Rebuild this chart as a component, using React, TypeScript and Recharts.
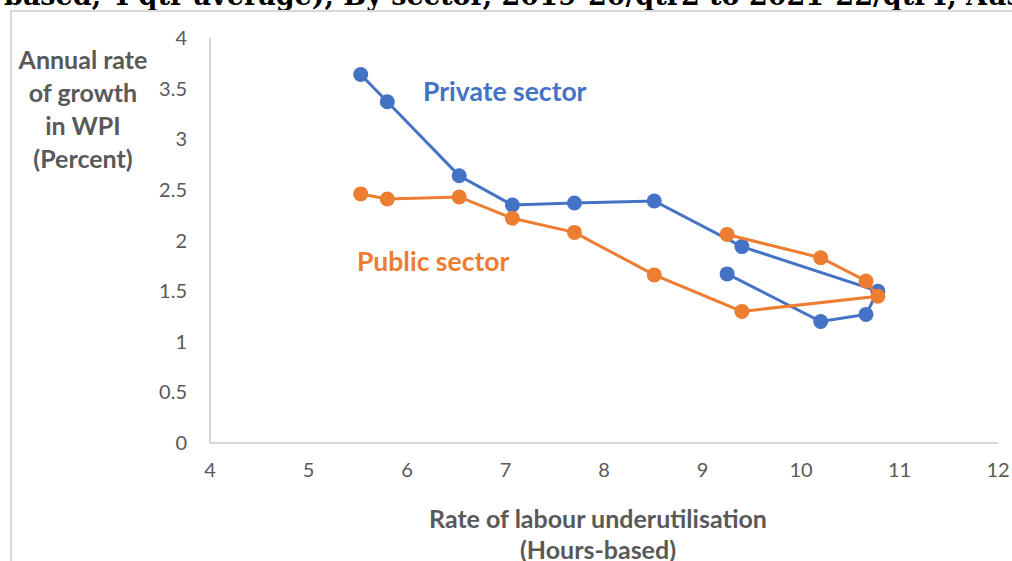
import React from 'react';
import { ScatterChart, Scatter, XAxis, YAxis } from 'recharts';

// Quarterly observations (4-qtr averages), in time order
const underutilisation = [9.25, 10.2, 10.66, 10.78, 9.4, 8.51, 7.7, 7.07, 6.53, 5.8, 5.53];
const privateSector = [1.67, 1.2, 1.27, 1.5, 1.94, 2.39, 2.37, 2.35, 2.64, 3.37, 3.64];
const publicSector = [2.06, 1.83, 1.6, 1.45, 1.3, 1.66, 2.08, 2.22, 2.43, 2.41, 2.46];

const xTicks = [4, 5, 6, 7, 8, 9, 10, 11, 12];
const yTicks = [0, 0.5, 1, 1.5, 2, 2.5, 3, 3.5, 4];

const titleText = 'based, 4 qtr average), By sector, 2019-20/qtr2 to 2021-22/qtr4, Australia';
const yTitleLines = ['Annual rate', 'of growth', 'in WPI', '(Percent)'];
const xTitleLines = ['Rate of labour underutilisation', '(Hours-based)'];

const BLUE = '#4472C4';
const ORANGE = '#ED7D31';
const GRAY_TEXT = '#595959';
const FONT = 'Lato, "Open Sans", sans-serif';

const privateData = underutilisation.map((x, i) => ({ x, y: privateSector[i] }));
const publicData = underutilisation.map((x, i) => ({ x, y: publicSector[i] }));

const makeDot = (color: string) => (props: any) => (
  <circle cx={props.cx} cy={props.cy} r={7.5} fill={color} />
);

const YTitle = () => {
  const cx = 83;
  return (
    <text textAnchor="middle" fill={GRAY_TEXT} fontFamily={FONT} fontWeight={700} fontSize={25}>
      {yTitleLines.map((l, i) => (
        <tspan key={i} x={cx} y={69 + i * 33}>{l}</tspan>
      ))}
    </text>
  );
};

const XTitle = () => {
  const cx = 598;
  return (
    <text textAnchor="middle" fill={GRAY_TEXT} fontFamily={FONT} fontWeight={700} fontSize={25}>
      {xTitleLines.map((l, i) => (
        <tspan key={i} x={cx} y={528 + i * 31}>{l}</tspan>
      ))}
    </text>
  );
};

export default function App() {
  return (
    <div style={{ position: 'absolute', left: 0, top: 0, width: 1012, height: 561, overflow: 'hidden', background: '#fff' }}>
      <svg width={1012} height={12} style={{ position: 'absolute', left: 0, top: 0 }}>
        <text x={4} y={5} fontFamily='"DejaVu Serif", serif' fontWeight={700} fontSize={27} fill="#000">
          {titleText}
        </text>
      </svg>
      <div style={{ position: 'absolute', left: 10, top: 10, width: 1100, height: 700, border: '2px solid #D9D9D9', boxSizing: 'border-box' }} />
      <div style={{ position: 'absolute', left: 0, top: 0 }}>
        <ScatterChart width={1012} height={561} margin={{ top: 38, right: 14, bottom: 0, left: 0 }}>
          <XAxis
            type="number"
            dataKey="x"
            domain={[4, 12]}
            ticks={xTicks}
            allowDataOverflow
            height={118}
            tickLine={false}
            tickSize={0}
            tickMargin={20}
            axisLine={{ stroke: '#C8C8C8', strokeWidth: 1.5 }}
            tick={{ fill: GRAY_TEXT, fontSize: 20, fontFamily: FONT }}
            label={<XTitle />}
          />
          <YAxis
            type="number"
            dataKey="y"
            domain={[0, 4]}
            ticks={yTicks}
            allowDataOverflow
            width={210}
            tickLine={false}
            tickSize={0}
            tickMargin={23}
            axisLine={{ stroke: '#C8C8C8', strokeWidth: 1.5 }}
            tick={{ fill: GRAY_TEXT, fontSize: 20, fontFamily: FONT }}
            label={<YTitle />}
          />
          <Scatter
            name="Private sector"
            data={privateData}
            fill={BLUE}
            line={{ stroke: BLUE, strokeWidth: 3 }}
            lineType="joint"
            shape={makeDot(BLUE)}
            isAnimationActive={false}
          />
          <Scatter
            name="Public sector"
            data={publicData}
            fill={ORANGE}
            line={{ stroke: ORANGE, strokeWidth: 3 }}
            lineType="joint"
            shape={makeDot(ORANGE)}
            isAnimationActive={false}
          />
        </ScatterChart>
      </div>
      <svg width={1012} height={561} style={{ position: 'absolute', left: 0, top: 0, pointerEvents: 'none' }}>
        <text x={423} y={101} fill={BLUE} fontFamily={FONT} fontWeight={700} fontSize={26.5}>Private sector</text>
        <text x={357} y={271} fill={ORANGE} fontFamily={FONT} fontWeight={700} fontSize={26.5}>Public sector</text>
      </svg>
    </div>
  );
}
